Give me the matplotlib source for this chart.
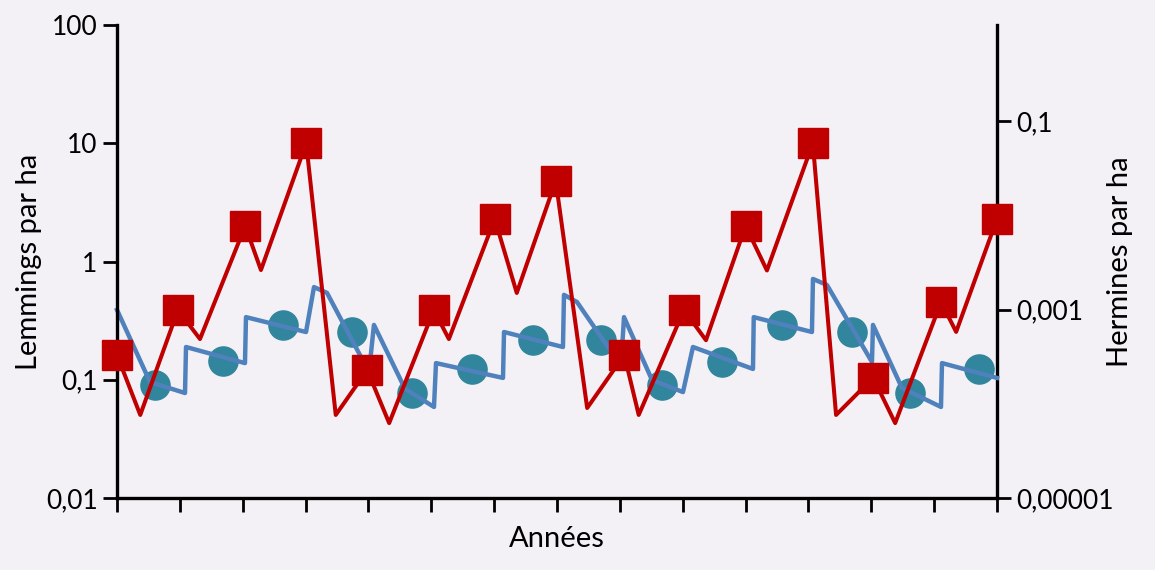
"""Lemmings and stoats densities over the years, log scales."""

import matplotlib

matplotlib.use("Agg")
import matplotlib.pyplot as plt

# lemmings (left axis): square markers, one per year
lem_years = [0, 0.97, 2.04, 3.01, 3.98, 5.04, 6.01, 6.98, 8.07, 9.02, 10.0, 11.07, 12.03, 13.11, 14.0]
lem_values = [0.162, 0.389, 2.0, 10, 0.121, 0.389, 2.29, 4.8, 0.162, 0.389, 2.0, 10, 0.104, 0.454, 2.29]

# lemmings line, with the dips between the markers
lem_line_x = [0, 0.37, 0.97, 1.32, 2.04, 2.29, 3.01, 3.48, 3.98, 4.33, 5.04, 5.28, 6.01, 6.36,
              6.98, 7.48, 8.07, 8.30, 9.02, 9.37, 10.0, 10.34, 11.07, 11.44, 12.03, 12.38,
              13.11, 13.35, 14.0]
lem_line_y = [0.162, 0.0504, 0.389, 0.221, 2.0, 0.847, 10, 0.0504, 0.121, 0.043, 0.389, 0.221,
              2.29, 0.542, 4.8, 0.0577, 0.162, 0.0504, 0.389, 0.216, 2.0, 0.84, 10, 0.0504,
              0.104, 0.043, 0.454, 0.254, 2.29]

# stoats (right axis): round markers
herm_years = [0.60, 1.69, 2.64, 3.74, 4.69, 5.65, 6.62, 7.70, 8.67, 9.62, 10.58, 11.69, 12.62, 13.72]
herm_values = [1.58e-4, 2.85e-4, 6.86e-4, 5.77e-4, 1.30e-4, 2.34e-4, 4.74e-4, 4.74e-4,
               1.58e-4, 2.77e-4, 6.86e-4, 5.77e-4, 1.30e-4, 2.34e-4]

# stoats line (saw-tooth)
herm_line_x = [0, 0.525, 1.082, 1.098, 2.036, 2.052, 3.007, 3.134, 3.341, 4.009, 4.088, 4.582,
               5.043, 5.075, 6.141, 6.157, 7.095, 7.111, 7.318, 8.018, 8.066, 8.511, 9.004,
               9.163, 10.118, 10.13, 11.056, 11.072, 11.295, 12.011, 12.027, 12.488, 13.109,
               13.125, 14.0]
herm_line_y = [9.9e-4, 1.70e-4, 1.30e-4, 4.0e-4, 2.70e-4, 8.3e-4, 5.77e-4, 1.73e-3, 1.50e-3,
               2.17e-4, 6.86e-4, 1.44e-4, 9.25e-5, 2.70e-4, 1.88e-4, 5.77e-4, 4.0e-4, 1.43e-3,
               1.20e-3, 2.52e-4, 8.3e-4, 1.79e-4, 1.33e-4, 4.0e-4, 2.34e-4, 8.3e-4, 5.77e-4,
               2.11e-3, 1.82e-3, 2.77e-4, 6.86e-4, 1.47e-4, 9.25e-5, 2.70e-4, 1.88e-4]

left_ticks = [0.01, 0.1, 1, 10, 100]
left_labels = ["0,01", "0,1", "1", "10", "100"]
right_ticks = [1e-5, 1e-3, 1e-1]
right_labels = ["0,00001", "0,001", "0,1"]

BG = "#F3F1F5"
RED = "#C00000"
BLUE = "#4F81BD"
TEAL = "#31859C"

plt.rcParams["font.family"] = ["Lato", "DejaVu Sans"]

fig = plt.figure(figsize=(11.55, 5.70), dpi=100, facecolor=BG)
ax = fig.add_axes([117 / 1155, 72 / 570, 880 / 1155, 473 / 570])
ax2 = ax.twinx()

# stoats on the right axis
ax2.plot(herm_years, herm_values, "o", color=TEAL, markersize=21, zorder=2, clip_on=False)
ax2.plot(herm_line_x, herm_line_y, color=BLUE, lw=3.2, zorder=3, clip_on=False)
ax2.set_yscale("log")
ax2.set_ylim(1e-5, 10 ** 0.0186)

# lemmings on the left axis, drawn above the stoats
ax.set_zorder(ax2.get_zorder() + 1)
ax.patch.set_visible(False)
ax2.patch.set_facecolor(BG)
ax.plot(lem_line_x, lem_line_y, color=RED, lw=2.9, zorder=3, clip_on=False)
ax.plot(lem_years, lem_values, "s", color=RED, markersize=21, zorder=4, clip_on=False)
ax.set_yscale("log")
ax.set_ylim(0.01, 100)
ax.set_xlim(0, 14)

ax.set_yticks(left_ticks, left_labels)
ax.yaxis.set_minor_locator(matplotlib.ticker.NullLocator())
ax2.set_yticks(right_ticks, right_labels)
ax2.yaxis.set_minor_locator(matplotlib.ticker.NullLocator())
ax.set_xticks(range(15), [""] * 15)

for a in (ax, ax2):
    for s in a.spines.values():
        s.set_visible(False)
        s.set_linewidth(2.4)
    a.tick_params(axis="both", length=10, width=2.0, direction="out",
                  labelsize=19, pad=4, colors="black")
ax.spines["left"].set_visible(True)
ax.spines["bottom"].set_visible(True)
ax2.spines["right"].set_visible(True)

ax.set_ylabel("Lemmings par ha", fontsize=21)
ax.yaxis.set_label_coords(-0.085, 0.5)
ax2.set_ylabel("Hermines par ha", fontsize=21)
ax2.yaxis.set_label_coords(1.125, 0.5)
ax.set_xlabel("Années", fontsize=21, labelpad=6)

fig.savefig("out.png", dpi=100, facecolor=BG)
